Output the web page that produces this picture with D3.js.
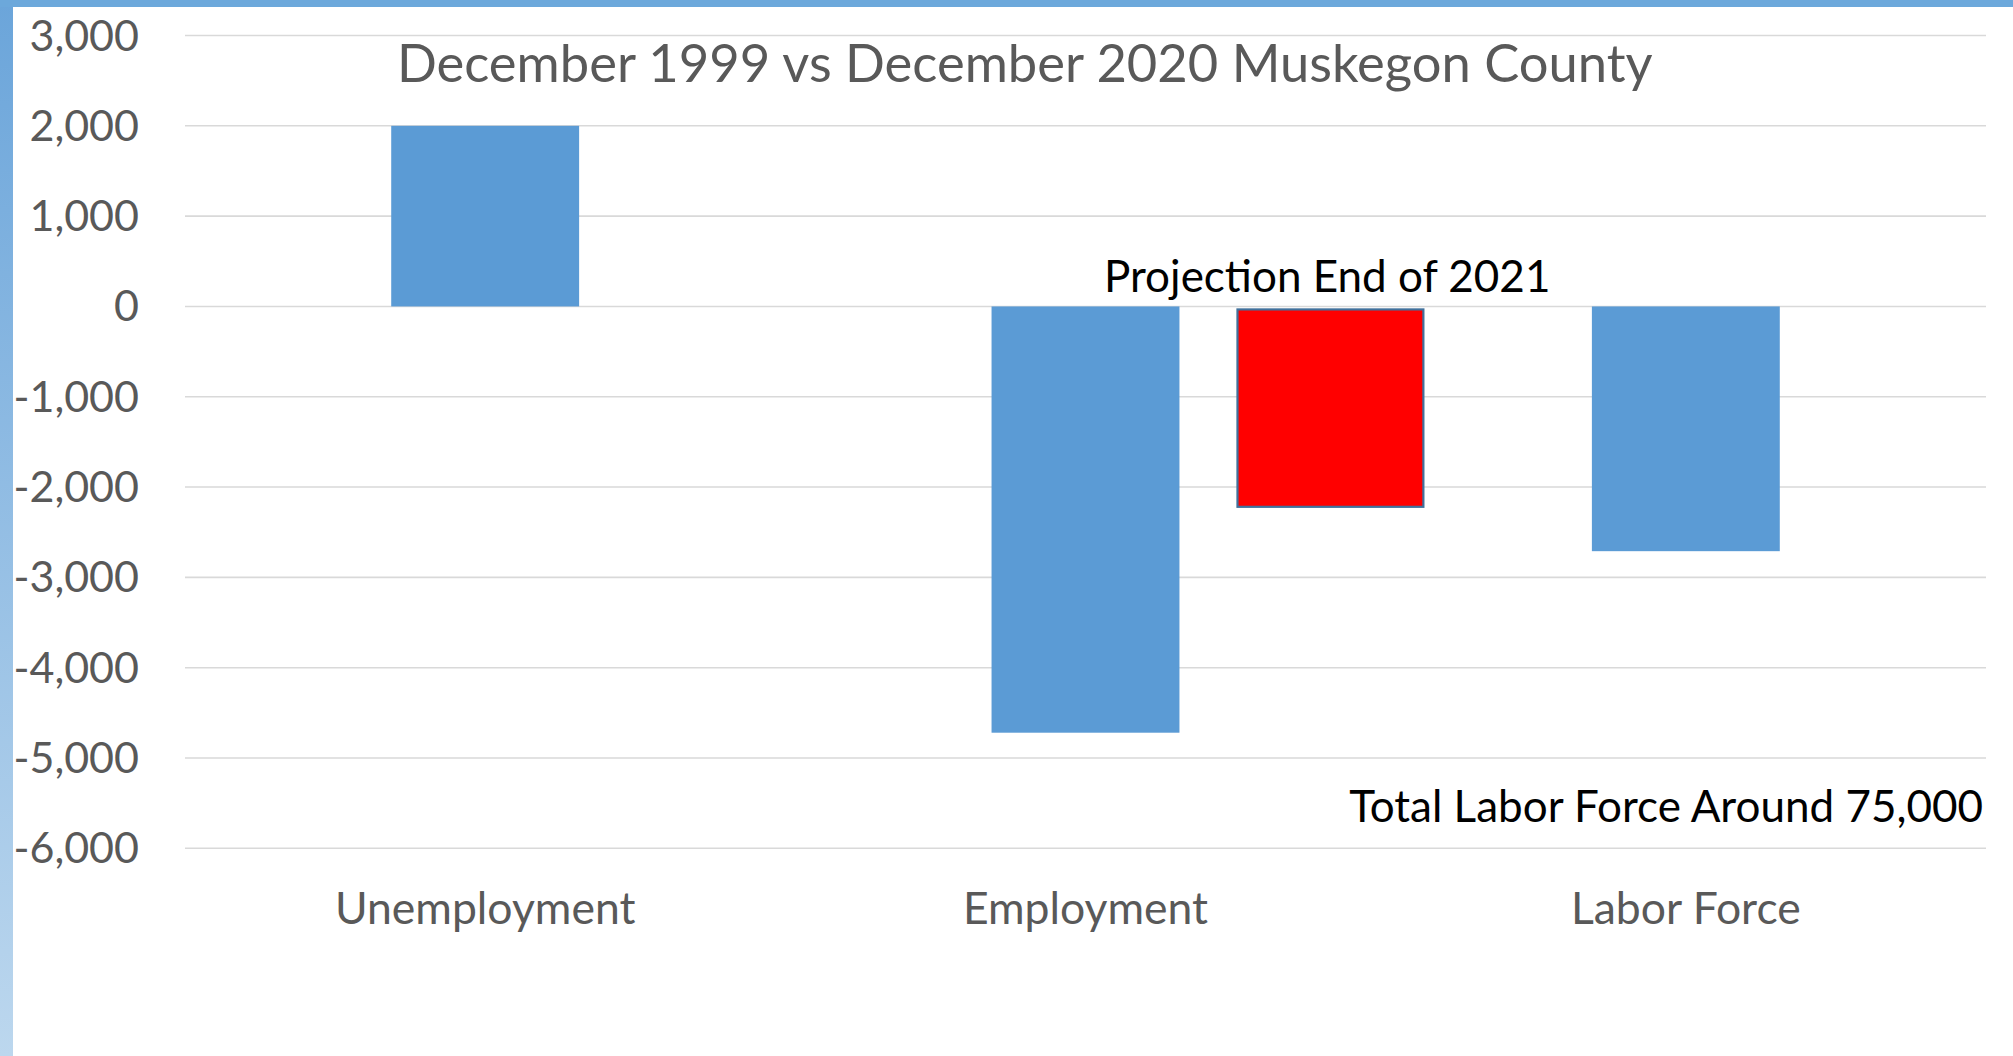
<!DOCTYPE html>
<html>
<head>
<meta charset="utf-8">
<script src="https://cdn.jsdelivr.net/npm/d3@7"></script>
<style>
  html, body { margin: 0; padding: 0; background: #fff; }
  svg { display: block; }
</style>
</head>
<body>
<svg id="chart" width="2013" height="1056"></svg>
<script>
// ---- data ----
const categories = ["Unemployment", "Employment", "Labor Force"];
const changeValues = [2000, -4720, -2710];
const projectionCategory = "Employment";
const projectionValue = -2230;
const yTicks = [3000, 2000, 1000, 0, -1000, -2000, -3000, -4000, -5000, -6000];
const titleText = "December 1999 vs December 2020 Muskegon County";
const projectionLabel = "Projection End of 2021";
const noteLabel = "Total Labor Force Around 75,000";

// ---- layout ----
const W = 2013, H = 1056;
const plot = { left: 185, right: 1986, top: 35.5, bottom: 848.3 };
const FONT = "Lato, 'Open Sans', sans-serif";

const svg = d3.select("#chart");

// frame (blue top band + gradient left band)
const defs = svg.append("defs");
const grad = defs.append("linearGradient").attr("id", "lg").attr("x1", 0).attr("y1", 0).attr("x2", 0).attr("y2", 1);
grad.append("stop").attr("offset", "0%").attr("stop-color", "#6BA5DA");
grad.append("stop").attr("offset", "100%").attr("stop-color", "#BCD7EE");
svg.append("rect").attr("x", 0).attr("y", 0).attr("width", 13).attr("height", H).attr("fill", "url(#lg)");
svg.append("rect").attr("x", 0).attr("y", 0).attr("width", W).attr("height", 7).attr("fill", "#6CA8DB");

// scales
const x = d3.scaleBand().domain(categories).range([plot.left, plot.right]).paddingInner(0).paddingOuter(0);
const y = d3.scaleLinear().domain([-6000, 3000]).range([plot.bottom, plot.top]);
const barW = x.bandwidth() * 0.313;
const cx = c => x(c) + x.bandwidth() / 2;

// gridlines
svg.append("g").selectAll("line").data(yTicks).join("line")
  .attr("x1", plot.left).attr("x2", plot.right)
  .attr("y1", d => y(d)).attr("y2", d => y(d))
  .attr("stroke", "#D9D9D9").attr("stroke-width", 1.6);

// y axis labels
const fmt = d3.format(",");
svg.append("g").selectAll("text").data(yTicks).join("text")
  .attr("x", 139).attr("y", d => y(d)).attr("dy", "0.35em")
  .attr("text-anchor", "end")
  .attr("font-family", FONT).attr("font-size", 43).attr("fill", "#595959")
  .text(d => d < 0 ? "-" + fmt(-d) : fmt(d));

// bars
svg.append("g").selectAll("rect").data(categories.map((c, i) => ({ c, v: changeValues[i] }))).join("rect")
  .attr("x", d => cx(d.c) - barW / 2)
  .attr("y", d => y(Math.max(0, d.v)))
  .attr("width", barW)
  .attr("height", d => Math.abs(y(d.v) - y(0)))
  .attr("fill", "#5B9BD5");

// projection rectangle (red)
const projCenter = cx(projectionCategory) + x.bandwidth() * 0.408;
svg.append("rect")
  .attr("x", projCenter - barW / 2 + 1)
  .attr("y", y(0) + 3)
  .attr("width", barW - 2)
  .attr("height", y(projectionValue) - y(0) - 4)
  .attr("fill", "#FF0000")
  .attr("stroke", "#41719C").attr("stroke-width", 2.2);

// category labels
svg.append("g").selectAll("text").data(categories).join("text")
  .attr("x", d => cx(d)).attr("y", 923.5)
  .attr("text-anchor", "middle")
  .attr("font-family", FONT).attr("font-size", 44.5).attr("fill", "#595959")
  .text(d => d);

// title
svg.append("text")
  .attr("x", 397).attr("y", 82.3)
  .attr("font-family", FONT).attr("font-size", 52.5).attr("fill", "#595959")
  .text(titleText);

// annotations
svg.append("text")
  .attr("x", 1104).attr("y", 291.7)
  .attr("font-family", FONT).attr("font-size", 44).attr("fill", "#000")
  .text(projectionLabel);
svg.append("text")
  .attr("x", 1983).attr("y", 821.7).attr("text-anchor", "end")
  .attr("font-family", FONT).attr("font-size", 44).attr("fill", "#000")
  .text(noteLabel);
</script>
</body>
</html>
